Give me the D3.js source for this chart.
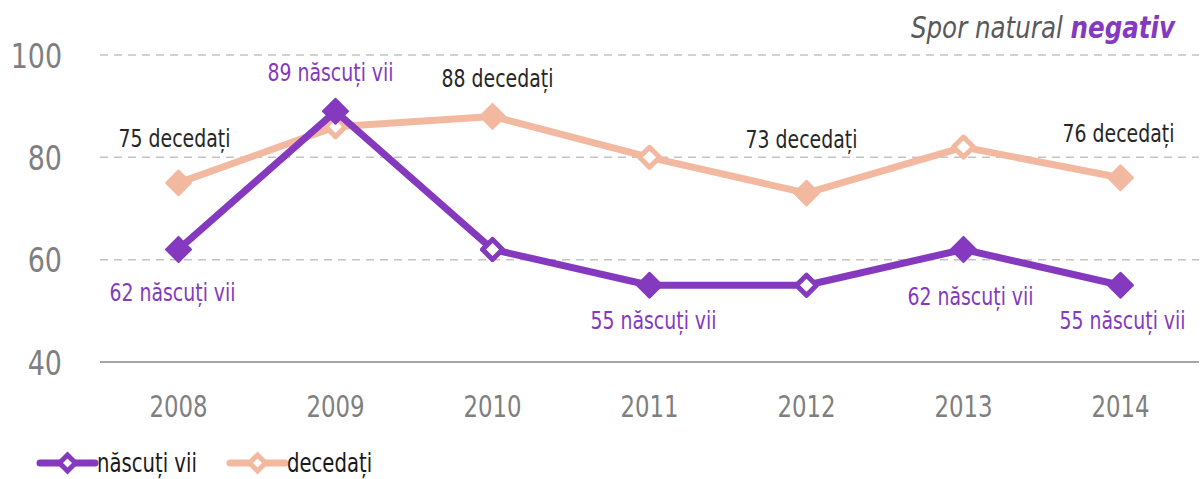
<!DOCTYPE html>
<html><head><meta charset="utf-8">
<script src="https://cdn.jsdelivr.net/npm/d3@7"></script>
<style>
body{margin:0;background:#fff;}
svg text{font-family:"DejaVu Sans Condensed","Liberation Sans Narrow",sans-serif;}
</style></head><body>
<svg id="c" width="1203" height="479"></svg>
<script>
const years = ["2008","2009","2010","2011","2012","2013","2014"];
const nascuti = [62, 89, 62, 55, 55, 62, 55];
const decedati = [75, 86, 88, 80, 73, 82, 76];
const nascutiHollow = [false, false, true, false, true, false, false];
const decedatiHollow = [false, true, false, true, false, true, false];
const yTicks = [40, 60, 80, 100];
const seriesNames = ["născuți vii", "decedați"];
const titleText = ["Spor natural ", "negativ"];
const labels = [
  {s:1, i:0, text:"75 decedați"},
  {s:0, i:1, text:"89 născuți vii"},
  {s:1, i:2, text:"88 decedați"},
  {s:1, i:4, text:"73 decedați"},
  {s:1, i:6, text:"76 decedați"},
  {s:0, i:0, text:"62 născuți vii"},
  {s:0, i:3, text:"55 născuți vii"},
  {s:0, i:5, text:"62 născuți vii"},
  {s:0, i:6, text:"55 născuți vii"}
];
const labelOffsets = [[-4,-45],[-5,-39],[5,-38],[-5,-54],[-2,-45],[-6,43],[4,35],[7,47],[2,35]];

const colors = ["#8439BF", "#F3B9A0"];
const svg = d3.select("#c");
const x = d3.scaleBand().domain(years).range([100, 1199]);
const y = d3.scaleLinear().domain([40, 100]).range([362, 55]);
const cx = d => x(d) + x.bandwidth()/2;

// grid
svg.append("g").selectAll("line").data(yTicks.filter(t=>t>40)).join("line")
  .attr("x1",100).attr("x2",1199).attr("y1",d=>y(d)).attr("y2",d=>y(d))
  .attr("stroke","#c3c3c3").attr("stroke-width",1.5).attr("stroke-dasharray","8,6");
svg.append("line").attr("x1",100).attr("x2",1199).attr("y1",y(40)).attr("y2",y(40))
  .attr("stroke","#a6a6a6").attr("stroke-width",2);

// y axis labels
const yAxis = d3.axisLeft(y).tickValues(yTicks).tickSize(0).tickPadding(0);
const gy = svg.append("g").attr("transform","translate(62,0)").call(yAxis);
gy.select(".domain").remove();
gy.selectAll("text").attr("font-size",34).attr("fill","#7f7f7f").attr("dy","0.36em")
  .attr("transform","scale(0.88,1)")
  .style("font-family",'"DejaVu Sans Condensed",sans-serif');

// x axis labels
const xAxis = d3.axisBottom(x).tickSize(0).tickPadding(0);
const gx = svg.append("g").attr("transform","translate(0,395)").call(xAxis);
gx.select(".domain").remove();
gx.selectAll("text").attr("font-size",31).attr("fill","#7f7f7f").attr("dy","0.72em")
  .attr("transform","scale(0.82,1)")
  .style("font-family",'"DejaVu Sans Condensed",sans-serif');

const line = d3.line().x((d,i)=>cx(years[i])).y(d=>y(d));
const series = [nascuti, decedati];
const hollows = [nascutiHollow, decedatiHollow];
const diamond = (px,py,r) => `M${px},${py-r}L${px+r},${py}L${px},${py+r}L${px-r},${py}Z`;

[1,0].forEach(s=>{
  svg.append("path").datum(series[s]).attr("d",line).attr("fill","none")
    .attr("stroke",colors[s]).attr("stroke-width",7).attr("stroke-linejoin","round");
  svg.append("g").selectAll("path").data(series[s]).join("path")
    .attr("d",(d,i)=> hollows[s][i] ? diamond(cx(years[i]),y(d),10) : diamond(cx(years[i]),y(d),12.5))
    .attr("fill",(d,i)=> hollows[s][i] ? "#fff" : colors[s])
    .attr("stroke",colors[s]).attr("stroke-width",(d,i)=> hollows[s][i] ? 5 : 2)
    .attr("stroke-linejoin","round");
});

// data labels
svg.append("g").selectAll("text").data(labels).join("text")
  .attr("transform",(d,k)=>`translate(${cx(years[d.i]) + labelOffsets[k][0]},${y(series[d.s][d.i]) + labelOffsets[k][1]}) scale(0.84,1)`)
  .attr("dy","0.36em").attr("text-anchor","middle").attr("font-size",25)
  .attr("fill",d=> d.s===0 ? "#8439BF" : "#262626").text(d=>d.text);

// title
const t = svg.append("text").attr("transform","translate(1175,38) scale(0.91,1)").attr("text-anchor","end")
  .attr("font-size",30).attr("font-style","italic");
t.append("tspan").attr("fill","#595959").text(titleText[0]);
t.append("tspan").attr("fill","#8439BF").attr("font-weight","bold").text(titleText[1]);

// legend
const legendX = [40, 230];
seriesNames.forEach((name,s)=>{
  const g = svg.append("g").attr("transform",`translate(${legendX[s]},463)`);
  g.append("line").attr("x1",0).attr("x2",55).attr("stroke",colors[s]).attr("stroke-width",7).attr("stroke-linecap","round");
  g.append("path").attr("d",diamond(27.5,0,8)).attr("fill","#fff").attr("stroke",colors[s]).attr("stroke-width",5);
  g.append("text").attr("transform","translate(57,0) scale(0.84,1)").attr("dy","0.36em").attr("font-size",26)
    .attr("fill","#1a1a1a").text(name);
});
</script></body></html>
